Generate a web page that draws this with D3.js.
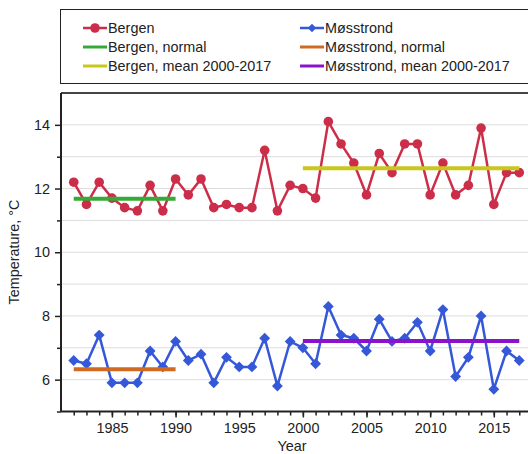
<!DOCTYPE html>
<html><head><meta charset="utf-8">
<script src="https://cdn.jsdelivr.net/npm/d3@7"></script>
<style>body{margin:0;background:#fff;} svg{display:block;font-family:"Liberation Sans",Arial,sans-serif;}</style>
</head><body><svg id="c" width="528" height="454"></svg>
<script>
const years = d3.range(1982, 2018);
const bergen = [12.2,11.5,12.2,11.7,11.4,11.3,12.1,11.3,12.3,11.8,12.3,11.4,11.5,11.4,11.4,13.2,11.3,12.1,
  12.0,11.7,14.1,13.4,12.8,11.8,13.1,12.5,13.4,13.4,11.8,12.8,11.8,12.1,13.9,11.5,12.5,12.5];
const mosstrond = [6.6,6.5,7.4,5.9,5.9,5.9,6.9,6.4,7.2,6.6,6.8,5.9,6.7,6.4,6.4,7.3,5.8,7.2,
  7.0,6.5,8.3,7.4,7.3,6.9,7.9,7.2,7.3,7.8,6.9,8.2,6.1,6.7,8.0,5.7,6.9,6.6];
const bergenNormal = {from:1982, to:1990, value:11.68};
const mosstrondNormal = {from:1982, to:1990, value:6.33};
const bergenMean = {from:2000, to:2017, value:12.64};
const mosstrondMean = {from:2000, to:2017, value:7.21};
const xTicks = [1985,1990,1995,2000,2005,2010,2015];
const yTicks = [6,8,10,12,14];

const C = {bergen:"#cc2e4a", moss:"#3558d8", green:"#36aa36", orange:"#d06a20", yellow:"#c9c61c", purple:"#8a12cc"};
const FS = 14.4;

const svg = d3.select("#c");
const L = 61, R = 532, T = 93, B = 411.5;
const x = d3.scaleLinear().domain([1981, 2018]).range([L, R]);
const y = d3.scaleLinear().domain([5, 15]).range([B, T]);

// gridlines
svg.append("g").selectAll("line").data(d3.range(6, 15)).join("line")
  .attr("x1", L).attr("x2", R).attr("y1", d=>y(d)).attr("y2", d=>y(d))
  .attr("stroke", "#dcdcdc").attr("stroke-width", 1);

// frame top
svg.append("line").attr("x1", L).attr("x2", R).attr("y1", T).attr("y2", T).attr("stroke", "#444").attr("stroke-width", 2);

// axes
const xAxis = svg.append("g").attr("transform", `translate(0,${B})`)
  .call(d3.axisBottom(x).tickValues(xTicks).tickFormat(d3.format("d")).tickSize(6).tickPadding(5));
const xMinor = svg.append("g").attr("transform", `translate(0,${B})`)
  .call(d3.axisBottom(x).tickValues(d3.range(1982, 2018)).tickFormat("").tickSize(4));
xMinor.select(".domain").remove();
const yAxis = svg.append("g").attr("transform", `translate(${L},0)`)
  .call(d3.axisLeft(y).tickValues(yTicks).tickFormat(d3.format("d")).tickSize(6).tickPadding(5));
const yMinor = svg.append("g").attr("transform", `translate(${L},0)`)
  .call(d3.axisLeft(y).tickValues([5,7,9,11,13]).tickFormat("").tickSize(4));
yMinor.select(".domain").remove();
[xAxis, yAxis].forEach(a => {
  a.select(".domain").attr("stroke", "#222").attr("stroke-width", 2);
  a.selectAll("text").attr("font-size", FS).attr("fill", "#222").attr("font-family", "Liberation Sans, Arial, sans-serif");
  a.selectAll(".tick line").attr("stroke", "#222").attr("stroke-width", 1.5);
});
[xMinor, yMinor].forEach(a => a.selectAll(".tick line").attr("stroke", "#222").attr("stroke-width", 1.5));
yAxis.select(".domain").attr("d", `M0,${T}V${B}`);
xAxis.select(".domain").attr("d", `M${L},0H${R}`);

svg.append("text").attr("x", 292).attr("y", 451).attr("text-anchor", "middle")
  .attr("font-size", FS).attr("fill", "#222").text("Year");
svg.append("text").attr("transform", `translate(19,252) rotate(-90)`).attr("text-anchor", "middle")
  .attr("font-size", FS).attr("fill", "#222").text("Temperature, °C");

// reference lines
function hline(o, col) {
  svg.append("line").attr("x1", x(o.from)).attr("x2", x(o.to)).attr("y1", y(o.value)).attr("y2", y(o.value))
    .attr("stroke", col).attr("stroke-width", 4);
}

const line = d3.line().x((d,i)=>x(years[i])).y(d=>y(d));
// Bergen
svg.append("path").datum(bergen).attr("d", line).attr("fill", "none").attr("stroke", C.bergen).attr("stroke-width", 2.5);
svg.append("g").selectAll("circle").data(bergen).join("circle")
  .attr("cx", (d,i)=>x(years[i])).attr("cy", d=>y(d)).attr("r", 4.8).attr("fill", C.bergen);
// Mosstrond
svg.append("path").datum(mosstrond).attr("d", line).attr("fill", "none").attr("stroke", C.moss).attr("stroke-width", 2.5);
const diamond = d3.symbol().type(d3.symbolDiamond2).size(75);
svg.append("g").selectAll("path").data(mosstrond).join("path")
  .attr("d", diamond).attr("transform", (d,i)=>`translate(${x(years[i])},${y(d)})`).attr("fill", C.moss);

hline(bergenNormal, C.green);
hline(bergenMean, C.yellow);
hline(mosstrondNormal, C.orange);
hline(mosstrondMean, C.purple);

// legend
svg.append("rect").attr("x", 60.5).attr("y", 9.5).attr("width", 480).attr("height", 74)
  .attr("fill", "#fff").attr("stroke", "#222").attr("stroke-width", 1);
const legend = [
  {label:"Bergen", col:C.bergen, marker:"circle", cx:83, cy:28},
  {label:"Bergen, normal", col:C.green, cx:83, cy:47},
  {label:"Bergen, mean 2000-2017", col:C.yellow, cx:83, cy:66},
  {label:"Møsstrond", col:C.moss, marker:"diamond", cx:300, cy:28},
  {label:"Møsstrond, normal", col:C.orange, cx:300, cy:47},
  {label:"Møsstrond, mean 2000-2017", col:C.purple, cx:300, cy:66}
];
const lg = svg.append("g").selectAll("g").data(legend).join("g");
lg.append("line").attr("x1", d=>d.cx).attr("x2", d=>d.cx+24).attr("y1", d=>d.cy).attr("y2", d=>d.cy)
  .attr("stroke", d=>d.col).attr("stroke-width", d=>d.marker ? 2.5 : 3);
lg.filter(d=>d.marker==="circle").append("circle").attr("cx", d=>d.cx+12).attr("cy", d=>d.cy).attr("r", 4.8).attr("fill", d=>d.col);
lg.filter(d=>d.marker==="diamond").append("path").attr("d", d3.symbol().type(d3.symbolDiamond2).size(45))
  .attr("transform", d=>`translate(${d.cx+12},${d.cy})`).attr("fill", d=>d.col);
lg.append("text").attr("x", d=>d.cx+25).attr("y", d=>d.cy+5).attr("font-size", FS).attr("fill", "#222").text(d=>d.label);
</script></body></html>
